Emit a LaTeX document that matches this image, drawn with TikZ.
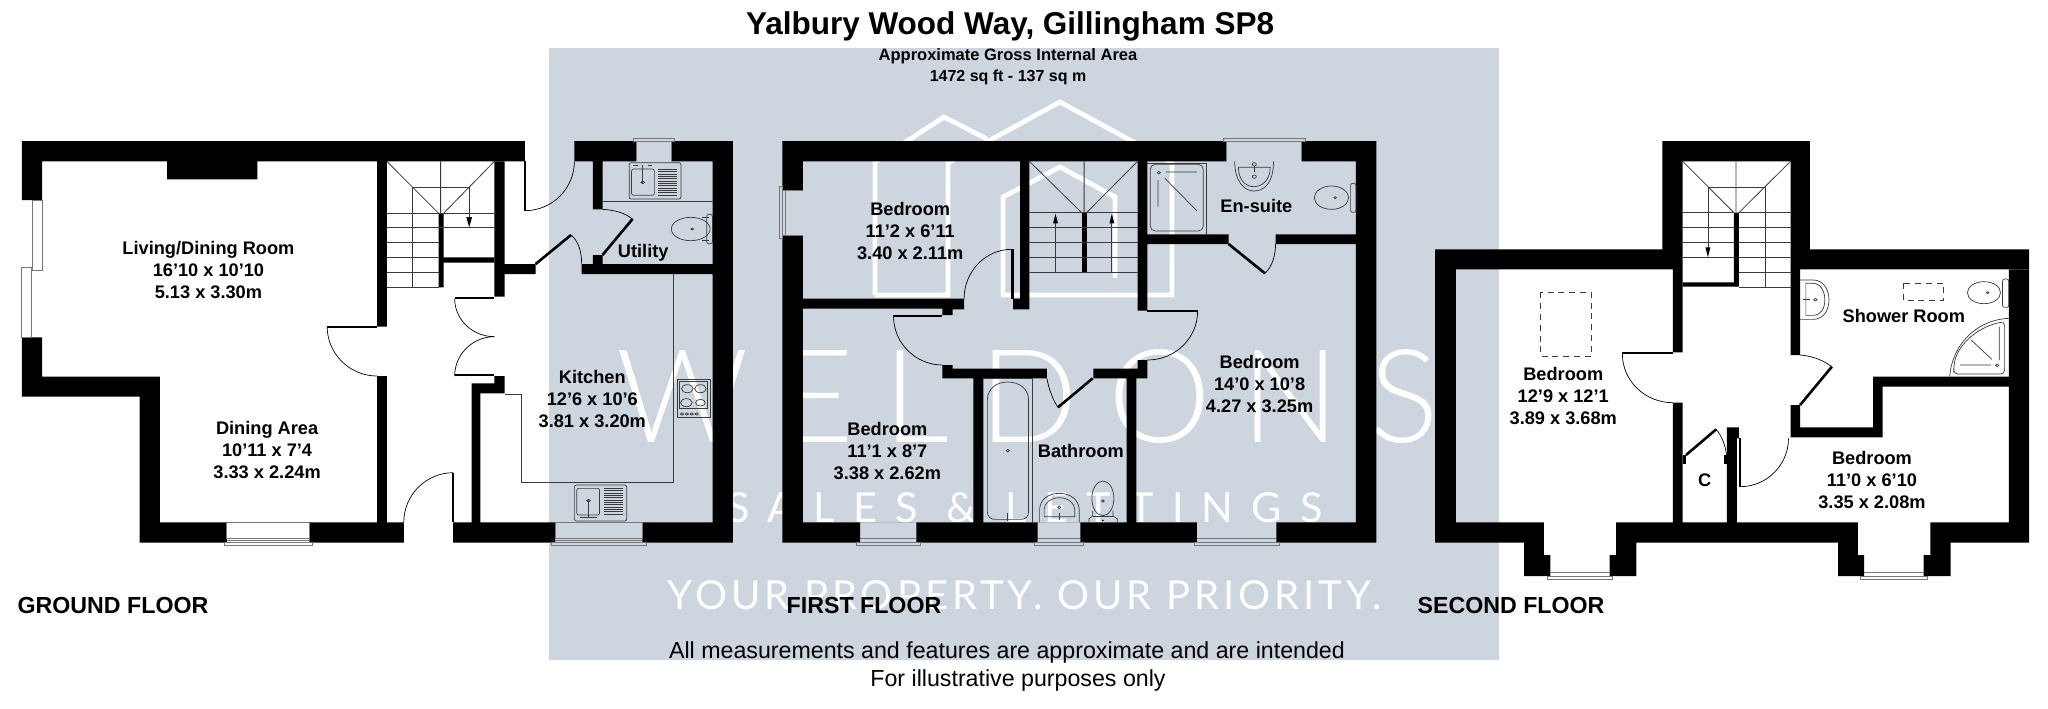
\documentclass[tikz,border=0pt]{standalone}
\usepackage{fontspec}
\setmainfont{Liberation Sans}
\newfontfamily\wmfont{Lato Light}
\newfontfamily\wmsmall{Lato}
\usetikzlibrary{calc}
\definecolor{band}{HTML}{CDD5DF}
\definecolor{fix}{HTML}{3A3A3A}
\definecolor{sillc}{HTML}{777777}
\tikzset{
  room/.style={font=\bfseries\fontsize{9.1}{11}\selectfont,align=center,inner sep=0pt},
  floorlabel/.style={font=\bfseries\fontsize{11.6}{14}\selectfont,inner sep=0pt},
  wall/.style={fill=black,draw=none},
  fine/.style={draw=black,line width=0.35pt},
  fixt/.style={draw=fix,line width=0.35pt},
  leaf/.style={draw=black,line width=1.3pt,line cap=butt},
  sill/.style={draw=sillc,line width=0.4pt},
  tread/.style={draw=fix,line width=0.4pt},
  logo/.style={draw=white,line width=2.4pt,miter limit=10},
  wm/.style={text=white,inner sep=0pt,anchor=base},
  arrowtip/.style={fill=black,draw=none},
  gdashed/.style={draw=fix,line width=0.35pt,dash pattern=on 3pt off 2.4pt},
}
\newcommand{\Qarc}[3]{\draw[fine] (#1) .. controls ($(#1)!0.55!(#2)$) and ($(#3)!0.55!(#2)$) .. (#3);}
\begin{document}
\begin{tikzpicture}[x=0.5pt,y=-0.5pt]
\useasboundingbox (0,0) rectangle (2048,708);
\fill[white] (0,0) rectangle (2048,708);
\fill[band] (548.5,48) rectangle (1499,660);
% watermark logo
\draw[logo] (875,295)--(948,295)--(948,163)--(1060,102)--(1172,163)--(1172,295)--(1003,295)--(1003,197)--(1060,167)--(1115,197)--(1115,278);
\draw[logo] (987,139)--(944,117)--(875,162)--(875,295);
\node[wm] (wmA) at (1027.5,442) {\wmfont\addfontfeatures{LetterSpace=23}\fontsize{65}{70}\selectfont WELDONS};
\node[wm] (wmB) at (1025,522) {\wmsmall\addfontfeatures{LetterSpace=44}\fontsize{20.7}{24}\selectfont SALES \& LETTINGS};
\node[wm] (wmC) at (1024.5,609) {\wmsmall\addfontfeatures{LetterSpace=10}\fontsize{20}{24}\selectfont YOUR PROPERTY. OUR PRIORITY.};
% titles
\node[inner sep=0pt,font=\bfseries\fontsize{15.75}{18}\selectfont] (title) at (1010,26) {Yalbury Wood Way, Gillingham SP8};
\node[inner sep=0pt,font=\bfseries\fontsize{8.25}{10}\selectfont] (area1) at (1008,56) {Approximate Gross Internal Area};
\node[inner sep=0pt,font=\bfseries\fontsize{8}{10}\selectfont] (area2) at (1008,77) {1472 sq ft - 137 sq m};
\node[inner sep=0pt,font=\fontsize{11.6}{13}\selectfont] (note1) at (1007,652) {All measurements and features are approximate and are intended};
\node[inner sep=0pt,font=\fontsize{11.6}{13}\selectfont] (note2) at (1018,680) {For illustrative purposes only};
\node[floorlabel] (gf) at (113,605) {GROUND FLOOR};
\node[floorlabel] (ff) at (864,605) {FIRST FLOOR};
\node[floorlabel] (sf) at (1511,605) {SECOND FLOOR};

% ===================== GROUND FLOOR
\begin{scope}[shift={(0,120)},x=0.24235pt,y=-0.16667pt]
\path[wall] (45,63)--(1083,63)--(1083,124)--(798,124)--(798,620)--(778,620)--(778,124)--(531,124)--(531,178)--(345,178)--(345,124)--(87,124)--(87,240)--(45,240)--cycle;
\path[wall] (45,652)--(87,652)--(87,770)--(330,770)--(330,1207)--(468,1207)--(468,1268)--(288,1268)--(288,830)--(45,830)--cycle;
\path[wall] (638,1207)--(778,1207)--(778,768)--(798,768)--(798,1207)--(833,1207)--(833,1268)--(638,1268)--cycle;
\path[wall] (1020,124)--(1041,124)--(1041,432)--(1105,432)--(1105,462)--(1041,462)--(1041,530)--(1020,530)--cycle;
\path[wall] (1020,768)--(1041,768)--(1041,820)--(991,820)--(991,1207)--(1145,1207)--(1145,1268)--(935,1268)--(935,1207)--(973,1207)--(973,790)--(1020,790)--cycle;
\path[wall] (1185,63)--(1313,63)--(1313,124)--(1243,124)--(1243,268)--(1223,268)--(1223,124)--(1185,124)--cycle;
\path[wall] (1385,63)--(1512,63)--(1512,1268)--(1325,1268)--(1325,1207)--(1470,1207)--(1470,462)--(1200,462)--(1200,432)--(1223,432)--(1223,405)--(1243,405)--(1243,432)--(1470,432)--(1470,124)--(1385,124)--cycle;
\path[wall] (905,280)--(915,280)--(915,412)--(1020,412)--(1020,428)--(915,428)--(915,502)--(905,502)--cycle;
% windows
\draw[sill] (67,240) rectangle (87,452);
\draw[sill] (45,442) rectangle (65,652);
\draw[sill] (468,1207) rectangle (638,1256) (462,1268) rectangle (645,1277) (468,1262)--(638,1262);
\draw[sill] (1145,1207) rectangle (1325,1256) (1138,1268) rectangle (1333,1277) (1145,1262)--(1325,1262);
\draw[sill] (1313,63) -- (1313,124) (1385,63)--(1385,124) (1307,54) rectangle (1392,63);
% doors
\path[wall] (675,618) rectangle (778,624);
\Qarc{675,620}{675,768}{778,768}
\path[wall] (1081,124) rectangle (1085,272);
\Qarc{1083,272}{1185,272}{1185,124}
\path[wall] (938,532) rectangle (1020,537);
\path[wall] (938,763) rectangle (1020,768);
\Qarc{938,536}{938,650}{1020,650}
\Qarc{938,768}{938,650}{1020,650}
\path[wall] (933,1058) rectangle (937,1207);
\Qarc{935,1058}{833,1058}{833,1207}
\draw[leaf] (1105,432)--(1178,345);
\draw[fine] (1178,345) .. controls (1195,365) and (1200,400) .. (1200,432);
\draw[leaf] (1243,405)--(1305,297);
\draw[fine] (1243,268) .. controls (1270,270) and (1290,280) .. (1305,297);
% stairs
\draw[tread] (798,124)--(905,280) (1020,124)--(915,280) (909,124)--(909,280);
\draw[tread] (850,202)--(968,202) (850,202)--(850,502) (968,202)--(968,300);
\foreach \yy in {280,322}{\draw[tread] (798,\yy)--(1020,\yy);}
\foreach \yy in {368,412,457,502}{\draw[tread] (798,\yy)--(905,\yy);}
\path[arrowtip] (968,322)--(962,291)--(974,291)--cycle;
% counters
\draw[fixt] (1243,243)--(1470,243);
\draw[fixt] (1390,462)--(1390,1088)--(1075,1088)--(1075,822)--(1041,822);
% utility sink
\draw[fixt,rounded corners=1pt] (1298,128) rectangle (1405,237);
\draw[fixt,rounded corners=1pt] (1303,147) rectangle (1350,226);
\draw[fixt] (1326,135)--(1326,190);
\draw[fixt] (1326,187) circle[radius=4];
\foreach \yy in {148,155,...,226}{\draw[fixt] (1358,\yy)--(1397,\yy);}
\draw[fixt] (1306,137)--(1316,137) (1336,137)--(1346,137);
% utility WC
\draw[fixt] (1425,327) ellipse[x radius=40,y radius=35];
\draw[fixt] (1448,292)--(1462,292) (1448,362)--(1462,362);
\draw[fixt,rounded corners=1pt] (1458,283) rectangle (1470,371);
\draw[fixt] (1428,327) circle[radius=3];
% stove
\draw[fixt] (1397,778) rectangle (1465,892);
\draw[fixt] (1402,784) rectangle (1460,866);
\draw[fixt] (1418,806) circle[radius=12] (1445,806) circle[radius=12] (1416,848) circle[radius=12] (1445,848) circle[radius=10];
\foreach \xx in {1407,1417,1427,1437}{\draw[fixt] (\xx,882) circle[radius=3.5];}
% kitchen sink
\draw[fixt,rounded corners=1pt] (1185,1095) rectangle (1293,1203);
\draw[fixt,rounded corners=1pt] (1190,1105) rectangle (1237,1185);
\draw[fixt] (1214,1140)--(1214,1192);
\draw[fixt] (1214,1142) circle[radius=4];
\draw[fixt] (1196,1192)--(1232,1192);
\foreach \yy in {1105,1112,...,1185}{\draw[fixt] (1246,\yy)--(1285,\yy);}
% labels
\node[room] (livingT) at (430,449) {Living/Dining Room\\16'10 x 10'10\\5.13 x 3.30m};
\node[room] (diningT) at (551,991) {Dining Area\\10'11 x 7'4\\3.33 x 2.24m};
\node[room] (kitchenT) at (1222,836) {Kitchen\\12'6 x 10'6\\3.81 x 3.20m};
\node[room] (utilityT) at (1327,397) {Utility};
\end{scope}

% ===================== FIRST FLOOR
\begin{scope}[shift={(760,120)},x=0.20408pt,y=-0.16667pt]
\path[wall] (55,63)--(1143,63)--(1143,124)--(949,124)--(949,343)--(1148,343)--(1148,372)--(949,372)--(949,572)--(925,572)--(925,124)--(660,124)--(660,568)--(620,568)--(620,536)--(637,536)--(637,124)--(105,124)--(105,210)--(55,210)--cycle;
\path[wall] (1327,63)--(1510,63)--(1510,1268)--(1265,1268)--(1265,1207)--(1460,1207)--(1460,372)--(1263,372)--(1263,343)--(1460,343)--(1460,124)--(1327,124)--cycle;
\path[wall] (55,345)--(105,345)--(105,536)--(500,536)--(500,568)--(472,568)--(472,585)--(447,585)--(447,566)--(105,566)--(105,1207)--(523,1207)--(523,775)--(447,775)--(447,735)--(472,735)--(472,746)--(703,746)--(703,775)--(547,775)--(547,1207)--(898,1207)--(898,775)--(817,775)--(817,746)--(925,746)--(925,720)--(949,720)--(949,775)--(922,775)--(922,1207)--(1070,1207)--(1070,1268)--(785,1268)--(785,1207)--(680,1207)--(680,1268)--(383,1268)--(383,1207)--(245,1207)--(245,1268)--(55,1268)--cycle;
\path[wall] (788,278)--(800,278)--(800,458)--(788,458)--cycle;
% windows
\draw[sill] (47,200) rectangle (55,355) (62,210)--(62,345) (105,210)--(55,210) (105,345)--(55,345);
\draw[sill] (1135,54) rectangle (1337,63) (1143,63)--(1143,124) (1327,63)--(1327,124);
\draw[sill] (245,1256)--(383,1256) (237,1268) rectangle (392,1277);
\draw[sill] (680,1256)--(785,1256) (672,1268) rectangle (793,1277);
\draw[sill] (1070,1256)--(1265,1256) (1063,1268) rectangle (1273,1277);
% doors
\path[wall] (616,388) rectangle (622,536);
\Qarc{616,388}{500,388}{500,536}
\path[wall] (327,585) rectangle (447,590);
\Qarc{327,588}{327,735}{447,735}
\path[wall] (949,570) rectangle (1072,575);
\Qarc{1072,575}{1072,720}{949,720}
\draw[leaf] (815,775)--(730,862);
\draw[fine] (703,775) .. controls (708,810) and (718,840) .. (730,862);
\draw[leaf] (1148,372)--(1237,460);
\draw[fine] (1237,460) .. controls (1255,440) and (1263,405) .. (1263,372);
% stairs
\draw[tread] (660,124)--(788,278) (925,124)--(800,278) (794,124)--(794,278);
\foreach \yy in {278,322,368,412,458}{\draw[tread] (660,\yy)--(925,\yy);}
\draw[tread] (724,458)--(724,300) (862,458)--(862,300);
\path[arrowtip] (724,281)--(718,310)--(730,310)--cycle;
\path[arrowtip] (862,281)--(856,310)--(868,310)--cycle;
% shower
\draw[fixt] (949,130)--(1093,130)--(1093,343);
\draw[fixt,rounded corners=2.5pt] (956,133) rectangle (1086,333);
\draw[fixt] (995,156)--(1070,156) (975,180)--(975,260) (992,175)--(1070,272);
\draw[fixt] (977,158) circle[radius=4];
% en-suite basin
\draw[fixt] (1163,124) .. controls (1163,190) and (1190,213) .. (1210,213) .. controls (1235,213) and (1258,190) .. (1258,124);
\draw[fixt] (1172,142)--(1250,142) .. controls (1250,180) and (1230,200) .. (1210,200) .. controls (1190,200) and (1172,180) .. (1172,142);
\draw[fixt] (1211,133) circle[radius=5] (1211,170) circle[radius=5];
\draw[fixt] (1211,138)--(1211,155);
% en-suite WC
\draw[fixt] (1400,233) ellipse[x radius=42,y radius=35];
\draw[fixt,rounded corners=1pt] (1447,190) rectangle (1460,277);
\draw[fixt] (1409,233) circle[radius=3];
% bath
\draw[fixt] (547,775)--(667,775)--(667,1207);
\draw[fixt] (557,1175)--(557,840) .. controls (557,805) and (580,786) .. (607,786) .. controls (634,786) and (658,805) .. (658,840)--(658,1175) .. controls (658,1190) and (650,1198) .. (640,1198)--(575,1198) .. controls (565,1198) and (557,1190) .. (557,1175)--cycle;
\draw[fixt] (607,992) circle[radius=4];
\draw[fixt] (607,1178)--(607,1203);
% bathroom basin
\draw[fixt] (685,1207)--(685,1170) .. controls (685,1140) and (705,1120) .. (733,1120) .. controls (761,1120) and (782,1140) .. (782,1170)--(782,1207);
\draw[fixt] (696,1190)--(696,1168) .. controls (696,1150) and (712,1133) .. (733,1133) .. controls (755,1133) and (771,1150) .. (771,1168)--(771,1190)--cycle;
\draw[fixt] (733,1162) circle[radius=4];
\draw[fixt] (733,1178)--(733,1200);
% bathroom WC
\draw[fixt] (840,1135) ellipse[x radius=27,y radius=52];
\draw[fixt] (840,1143) circle[radius=3.5];
\draw[fixt] (815,1172)--(815,1188)--(806,1196)--(806,1207) (865,1172)--(865,1188)--(875,1196)--(875,1207);
\draw[fixt] (815,1188)--(865,1188);
\fill[black] (840,1201) circle[radius=2.5];
% labels
\node[room] (bedA) at (368,332) {Bedroom\\11'2 x 6'11\\3.40 x 2.11m};
\node[room] (bedB) at (1224,792) {Bedroom\\14'0 x 10'8\\4.27 x 3.25m};
\node[room] (bedC) at (312,993) {Bedroom\\11'1 x 8'7\\3.38 x 2.62m};
\node[room] (bathT) at (786,993) {Bathroom};
\node[room] (ensuiteT) at (1216,258) {En-suite};
\end{scope}

% ===================== SECOND FLOOR
\begin{scope}[shift={(1400,120)},x=0.20663pt,y=-0.16667pt]
\path[wall] (85,388)--(635,388)--(635,63)--(992,63)--(992,388)--(1522,388)--(1522,448)--(968,448)--(968,705)--(945,705)--(945,124)--(684,124)--(684,697)--(660,697)--(660,448)--(135,448)--(135,1207)--(348,1207)--(348,1305)--(364,1305)--(364,1368)--(300,1368)--(300,1268)--(85,1268)--cycle;
\path[wall] (523,1207)--(660,1207)--(660,848)--(684,848)--(684,1207)--(791,1207)--(791,922)--(820,922)--(820,955)--(815,955)--(815,1207)--(1108,1207)--(1108,1305)--(1123,1305)--(1123,1368)--(1060,1368)--(1060,1268)--(572,1268)--(572,1368)--(507,1368)--(507,1305)--(523,1305)--cycle;
\path[wall] (945,855)--(968,855)--(968,922)--(1145,922)--(1145,770)--(1473,770)--(1473,800)--(1168,800)--(1168,952)--(945,952)--cycle;
\path[wall] (1473,448)--(1522,448)--(1522,1268)--(1332,1268)--(1332,1368)--(1267,1368)--(1267,1305)--(1283,1305)--(1283,1207)--(1473,1207)--cycle;
\path[wall] (808,278)--(820,278)--(820,500)--(684,500)--(684,487)--(808,487)--cycle;
\path[wall] (684,1005) rectangle (692,1033);
\path[wall] (785,1005) rectangle (791,1033);
% windows
\draw[sill] (364,1358)--(507,1358) (357,1368) rectangle (514,1378);
\draw[sill] (1123,1358)--(1267,1358) (1115,1368) rectangle (1275,1378);
% doors
\path[wall] (538,697) rectangle (660,702);
\Qarc{538,702}{538,848}{660,848}
\draw[leaf] (968,855)--(1045,740);
\draw[fine] (968,705) .. controls (1000,708) and (1025,722) .. (1045,740);
\path[wall] (820,955) rectangle (824,1100);
\Qarc{823,1100}{940,1100}{940,955}
\draw[leaf] (692,1005)--(765,928);
\draw[fine] (765,928) .. controls (780,950) and (788,980) .. (790,1005);
% stairs
\draw[tread] (684,124)--(808,278) (945,124)--(820,278) (813,124)--(813,278);
\draw[tread] (745,202)--(883,202) (745,202)--(745,385) (883,202)--(883,502);
\foreach \yy in {278,322,368,412}{\draw[tread] (684,\yy)--(808,\yy);}
\foreach \yy in {278,322,368,412,457,502}{\draw[tread] (820,\yy)--(945,\yy);}
\path[arrowtip] (745,412)--(739,382)--(751,382)--cycle;
% skylights
\draw[gdashed] (340,517) rectangle (463,708);
\draw[gdashed] (1218,490) rectangle (1315,542);
% basin
\draw[fixt] (968,480)--(1000,480) .. controls (1025,480) and (1038,510) .. (1038,539) .. controls (1038,570) and (1025,598) .. (1000,598)--(968,598);
\draw[fixt] (982,490)--(1000,490) .. controls (1018,490) and (1028,515) .. (1028,539) .. controls (1028,565) and (1018,586) .. (1000,586)--(982,586)--cycle;
\draw[fixt] (1005,539) circle[radius=4];
\draw[fixt,line width=0.7pt] (974,539)--(992,539);
% WC
\draw[fixt] (1413,518) ellipse[x radius=40,y radius=33];
\draw[fixt,rounded corners=1pt] (1458,477) rectangle (1473,562);
\draw[fixt] (1422,518) circle[radius=3];
% shower
\draw[fixt] (1330,770) .. controls (1335,680) and (1390,600) .. (1473,595);
\draw[fixt,rounded corners=2pt] (1463,762)--(1340,762)--(1340,745) .. controls (1345,680) and (1395,620) .. (1463,605)--cycle;
\draw[fixt] (1355,735)--(1430,735) (1382,660)--(1432,718) (1450,620)--(1450,720);
\draw[fixt] (1445,736) circle[radius=4];
% labels
\node[room] (bedD) at (395,828) {Bedroom\\12'9 x 12'1\\3.89 x 3.68m};
\node[room] (bedE) at (1142,1080) {Bedroom\\11'0 x 6'10\\3.35 x 2.08m};
\node[room] (showerT) at (1219,587) {Shower Room};
\node[room] (cupT) at (737,1082) {C};
\end{scope}
\end{tikzpicture}
\end{document}
